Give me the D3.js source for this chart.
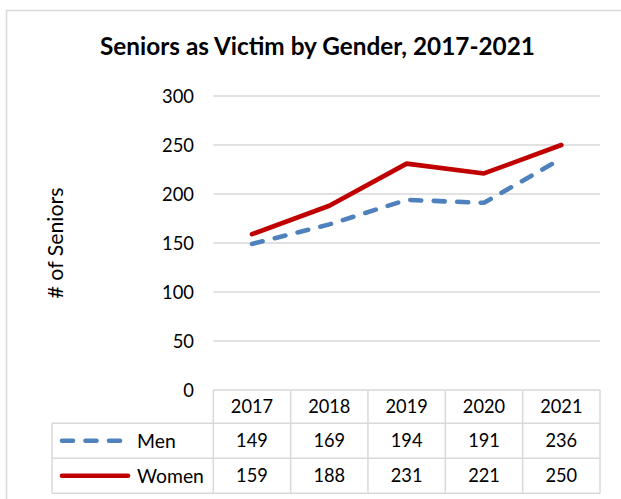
<!DOCTYPE html>
<html>
<head>
<meta charset="utf-8">
<script src="https://cdn.jsdelivr.net/npm/d3@7"></script>
<style>
  html, body { margin: 0; padding: 0; background: #fff; }
  svg { display: block; }
  text { font-family: Lato, "Open Sans", sans-serif; fill: #000; }
</style>
</head>
<body>
<svg id="chart" width="621" height="499"></svg>
<script>
// Data
const years = ["2017", "2018", "2019", "2020", "2021"];
const men = [149, 169, 194, 191, 236];
const women = [159, 188, 231, 221, 250];
const yTicks = [0, 50, 100, 150, 200, 250, 300];
const seriesNames = ["Men", "Women"];
const titleText = "Seniors as Victim by Gender, 2017-2021";
const yTitle = "# of Seniors";

const series = [
  { name: seriesNames[0], values: men, color: "#4F81BD", dash: "11,12.5" },
  { name: seriesNames[1], values: women, color: "#C00000", dash: null }
];

const svg = d3.select("#chart");
const gridColor = "#d9d9d9";

// Font size that makes a sample string span the given width
function sizeFor(sample, width, weight) {
  const t = svg.append("text")
    .style("font-size", "20px")
    .style("font-weight", weight || "normal")
    .text(sample);
  const w = t.node().getComputedTextLength();
  t.remove();
  return (20 * width / w).toFixed(2) + "px";
}
const fsTitle = sizeFor(titleText, 435, "bold");
const fsTick = sizeFor("300", 32);
const fsNum = sizeFor("2017", 42.3);
const fsLegend = sizeFor("Women", 67);
const fsYTitle = sizeFor(yTitle, 111);

// Chart frame (left and top edges visible)
svg.append("rect")
  .attr("x", 6.5).attr("y", 10.5)
  .attr("width", 700).attr("height", 700)
  .attr("fill", "#fff")
  .attr("stroke", gridColor).attr("stroke-width", 1.5);

const plot = { left: 213.3, right: 600, top: 96, bottom: 390 };

const x = d3.scaleBand().domain(years).range([plot.left, plot.right]).padding(0);
const y = d3.scaleLinear().domain([0, 300]).range([plot.bottom, plot.top]);
const bw = x.bandwidth();

// Title
svg.append("text")
  .attr("x", 317.5).attr("y", 55)
  .attr("text-anchor", "middle")
  .style("font-weight", "bold")
  .style("font-size", fsTitle)
  .text(titleText);

// Gridlines
svg.append("g").selectAll("line")
  .data(yTicks.filter(d => d > 0))
  .join("line")
  .attr("x1", plot.left).attr("x2", plot.right)
  .attr("y1", d => y(d)).attr("y2", d => y(d))
  .attr("stroke", gridColor).attr("stroke-width", 1.5);

// Y axis labels
const yAxis = d3.axisLeft(y).tickValues(yTicks).tickSize(0).tickPadding(0);
const gy = svg.append("g").attr("transform", "translate(194,0)").call(yAxis);
gy.select(".domain").remove();
gy.selectAll("text")
  .style("font-family", "Lato, 'Open Sans', sans-serif")
  .style("font-size", fsTick)
  .attr("fill", "#000")
  .attr("dy", "0.36em");

// Y axis title
svg.append("text")
  .attr("transform", "translate(63,243) rotate(-90)")
  .attr("text-anchor", "middle")
  .style("font-size", fsYTitle)
  .text(yTitle);

// Series lines
const line = d3.line()
  .x((d, i) => x(years[i]) + bw / 2)
  .y(d => y(d));

series.forEach(s => {
  svg.append("path")
    .datum(s.values)
    .attr("d", line)
    .attr("fill", "none")
    .attr("stroke", s.color)
    .attr("stroke-width", 4.6)
    .attr("stroke-linecap", "round")
    .attr("stroke-linejoin", "round")
    .attr("stroke-dasharray", s.dash);
});

// Data table
const rowTop = [390, 423.3, 458.3];
const rowBottom = 493.3;
const tableLeft = 52;
const tg = svg.append("g");

// horizontal rules
tg.append("line")
  .attr("x1", plot.left).attr("x2", plot.right)
  .attr("y1", rowTop[0]).attr("y2", rowTop[0])
  .attr("stroke", gridColor).attr("stroke-width", 1.5);
[rowTop[1], rowTop[2], rowBottom].forEach(yy => {
  tg.append("line")
    .attr("x1", tableLeft).attr("x2", plot.right)
    .attr("y1", yy).attr("y2", yy)
    .attr("stroke", gridColor).attr("stroke-width", 1.5);
});
// vertical rules
tg.append("line")
  .attr("x1", tableLeft).attr("x2", tableLeft)
  .attr("y1", rowTop[1]).attr("y2", rowBottom)
  .attr("stroke", gridColor).attr("stroke-width", 1.5);
years.concat([null]).forEach(yr => {
  const xx = yr ? x(yr) : plot.right;
  tg.append("line")
    .attr("x1", xx).attr("x2", xx)
    .attr("y1", rowTop[0]).attr("y2", rowBottom)
    .attr("stroke", gridColor).attr("stroke-width", 1.5);
});

// header years
tg.selectAll("text.yr")
  .data(years)
  .join("text")
  .attr("class", "yr")
  .attr("x", d => x(d) + bw / 2)
  .attr("y", (rowTop[0] + rowTop[1]) / 2)
  .attr("dy", "0.36em")
  .attr("text-anchor", "middle")
  .style("font-size", fsNum)
  .text(d => d);

// series rows
series.forEach((s, r) => {
  const top = rowTop[r + 1];
  const bottom = r === 0 ? rowTop[2] : rowBottom;
  const cy = (top + bottom) / 2;
  // legend key
  tg.append("line")
    .attr("x1", 62).attr("x2", r === 0 ? 123 : 128)
    .attr("y1", cy).attr("y2", cy)
    .attr("stroke", s.color)
    .attr("stroke-width", 4.6)
    .attr("stroke-linecap", "round")
    .attr("stroke-dasharray", s.dash);
  tg.append("text")
    .attr("x", 137).attr("y", cy)
    .attr("dy", "0.36em")
    .style("font-size", fsLegend)
    .text(s.name);
  tg.selectAll(null)
    .data(s.values)
    .join("text")
    .attr("x", (d, i) => x(years[i]) + bw / 2)
    .attr("y", cy)
    .attr("dy", "0.36em")
    .attr("text-anchor", "middle")
    .style("font-size", fsNum)
    .text(d => d);
});
</script>
</body>
</html>
